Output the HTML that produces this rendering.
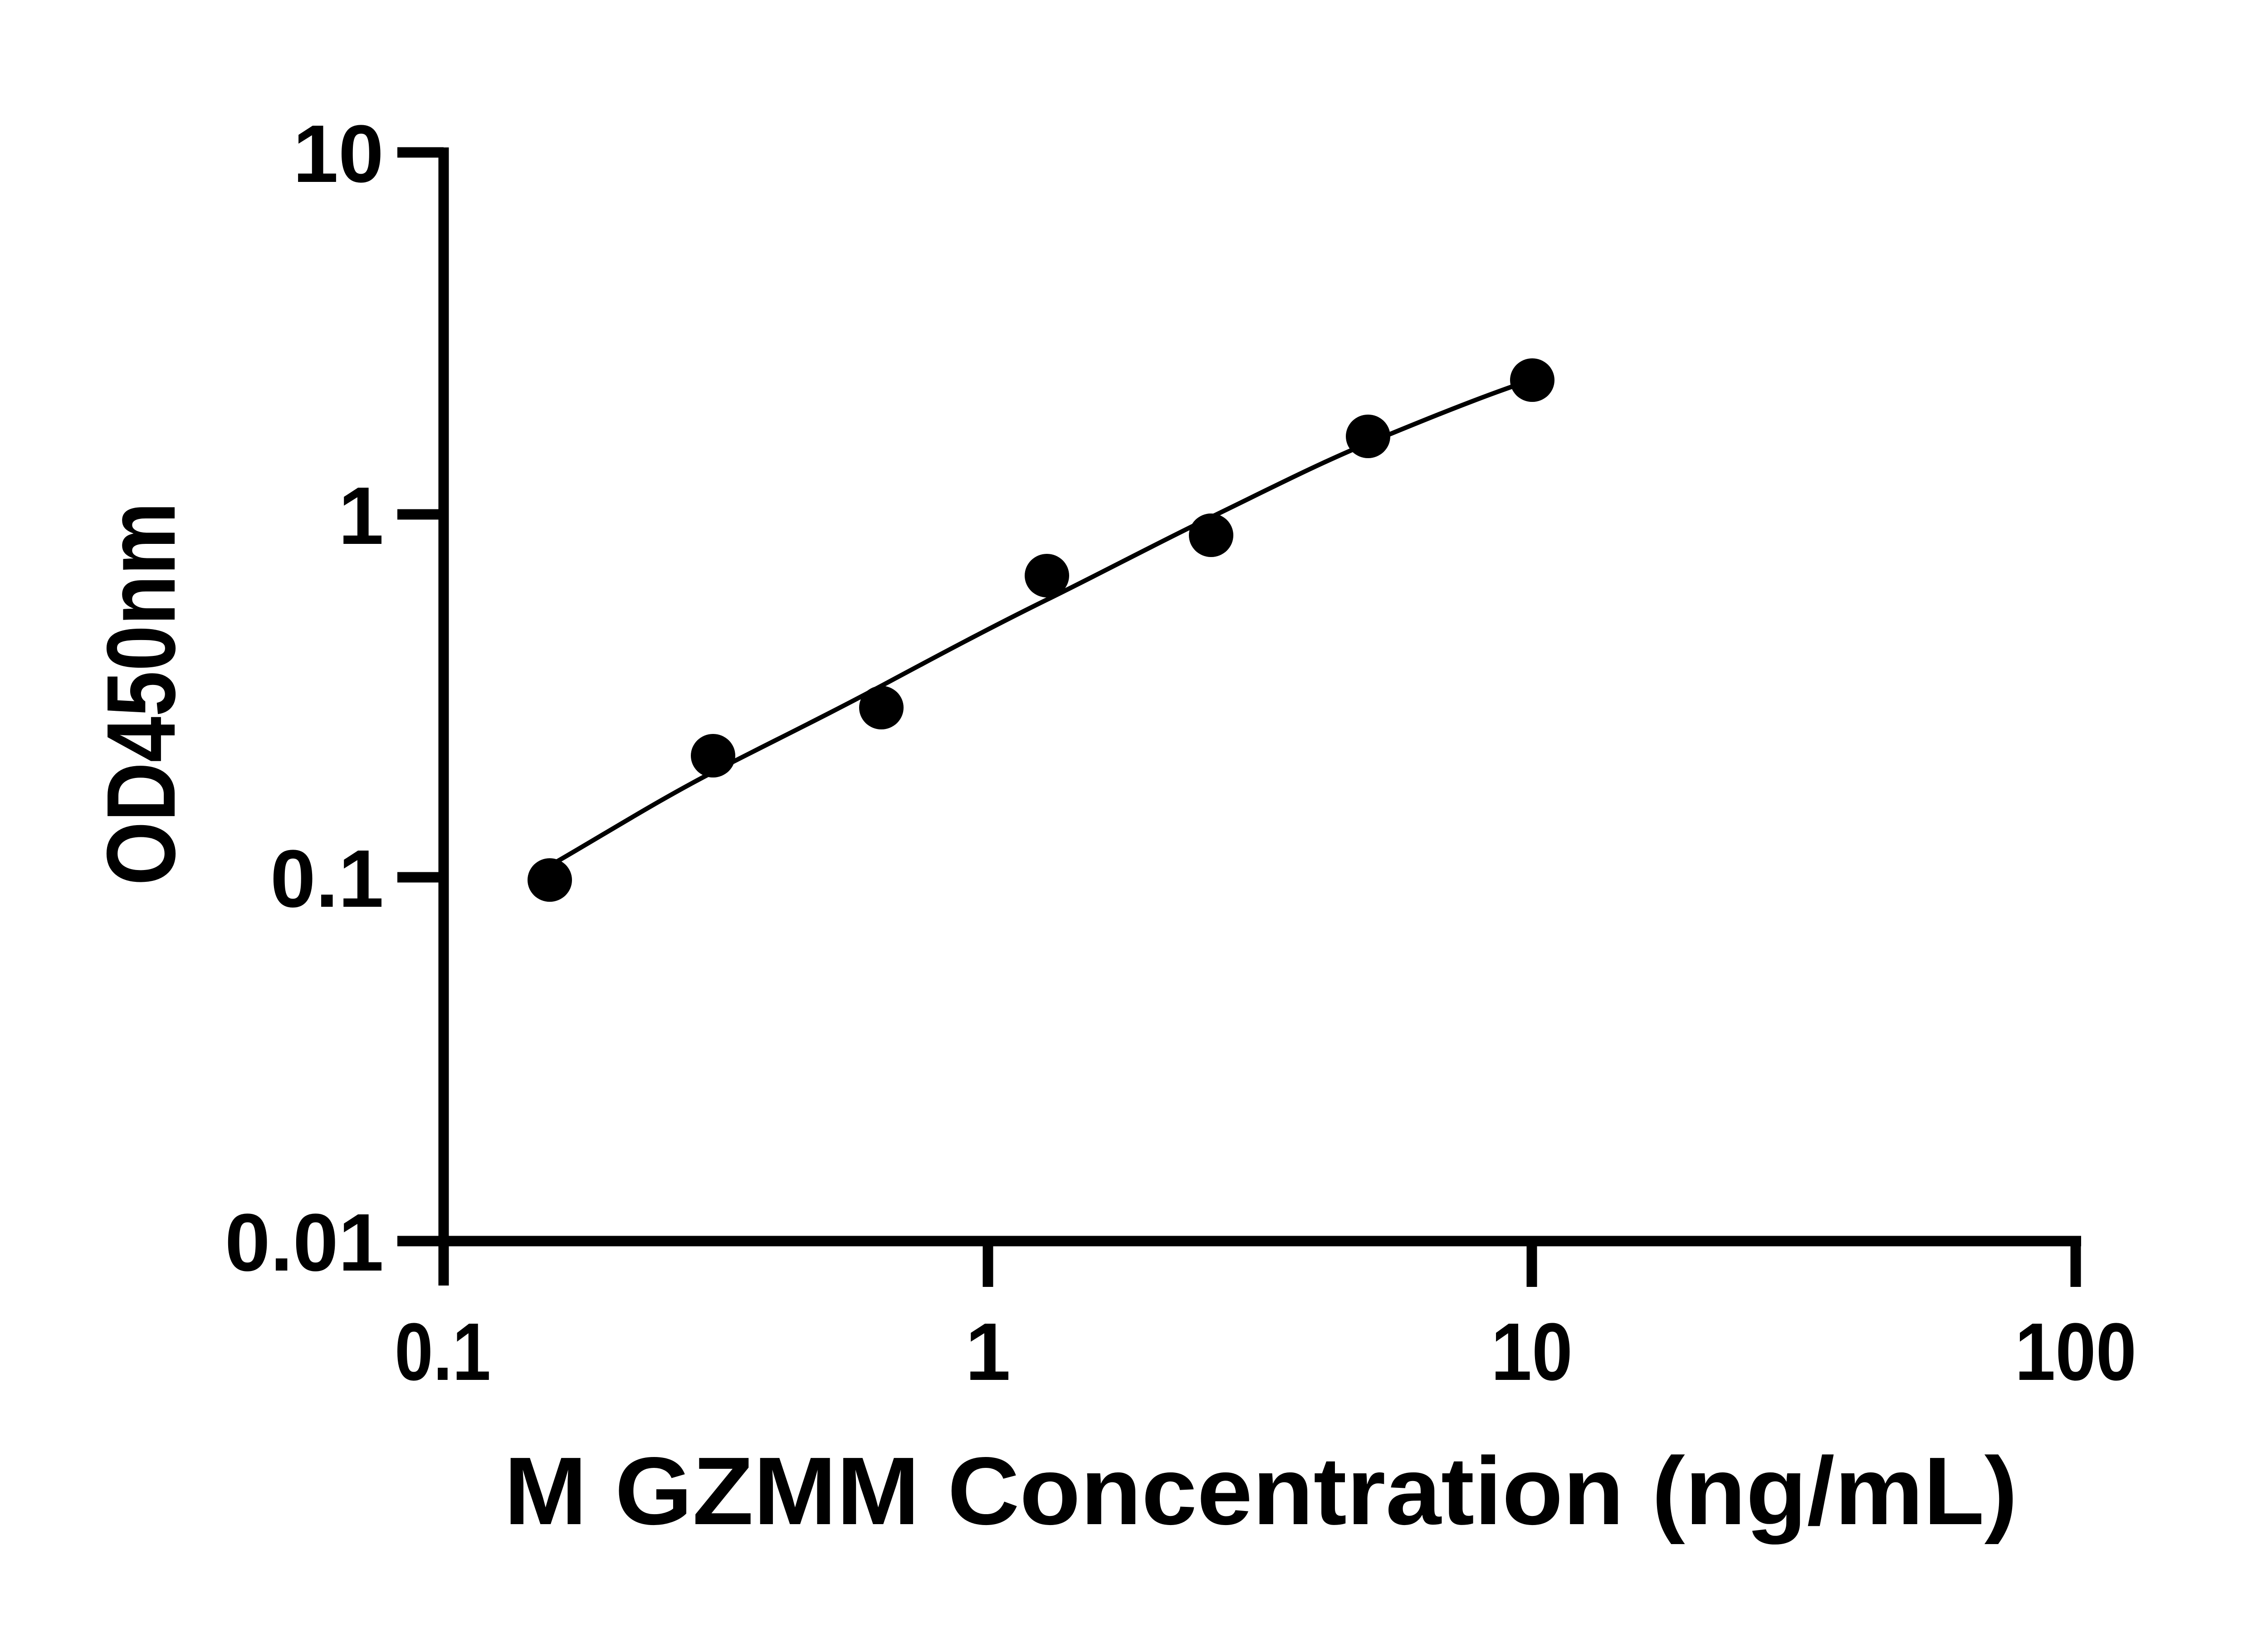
<!DOCTYPE html>
<html><head><meta charset="utf-8"><style>html,body{margin:0;padding:0;background:#fff}svg{display:block}</style></head>
<body>
<svg width="5130" height="3600" viewBox="0 0 5130 3600" xmlns="http://www.w3.org/2000/svg">
<rect width="5130" height="3600" fill="#fff"/>
<g stroke="#000" fill="none">
  <line x1="978" y1="325" x2="978" y2="2834" stroke-width="23"/>
  <line x1="876" y1="2736" x2="4588" y2="2736" stroke-width="23"/>
  <line x1="876" y1="336" x2="978" y2="336" stroke-width="23"/>
  <line x1="876" y1="1134" x2="978" y2="1134" stroke-width="23"/>
  <line x1="876" y1="1934" x2="978" y2="1934" stroke-width="23"/>
  <line x1="2178" y1="2736" x2="2178" y2="2837" stroke-width="23"/>
  <line x1="3377" y1="2736" x2="3377" y2="2837" stroke-width="23"/>
  <line x1="4576" y1="2736" x2="4576" y2="2837" stroke-width="23"/>
  <path d="M1218,1905 C1336,1837 1450,1765 1572,1702 S1820,1578 1943,1512 S2186,1382 2308,1322 S2550,1198 2670,1140 S2900,1025 3016,977 S3240,885 3340,850" stroke-width="10" stroke-linejoin="round"/>
</g>
<g fill="#000">
  <ellipse cx="1212" cy="1940" rx="49" ry="48"/>
  <ellipse cx="1572" cy="1666" rx="49" ry="48"/>
  <ellipse cx="1943" cy="1560" rx="49" ry="48"/>
  <ellipse cx="2308" cy="1269" rx="49" ry="48"/>
  <ellipse cx="2670" cy="1180" rx="49" ry="48"/>
  <ellipse cx="3016" cy="962" rx="49" ry="48"/>
  <ellipse cx="3378" cy="838" rx="49" ry="48"/>
</g>
<g font-family="Liberation Sans, Arial, sans-serif" font-weight="bold" fill="#000">
  <g font-size="180" text-anchor="end">
    <text x="846" y="401">10</text>
    <text x="846" y="1199">1</text>
    <text x="846" y="1999">0.1</text>
    <text x="846" y="2801">0.01</text>
  </g>
  <g font-size="180" text-anchor="middle">
    <text x="976" y="3042" textLength="212" lengthAdjust="spacingAndGlyphs">0.1</text>
    <text x="2178" y="3042">1</text>
    <text x="3377" y="3042" textLength="180" lengthAdjust="spacingAndGlyphs">10</text>
    <text x="4576" y="3042" textLength="268" lengthAdjust="spacingAndGlyphs">100</text>
  </g>
  <text x="1111" y="3360" font-size="212" textLength="3337" lengthAdjust="spacingAndGlyphs">M GZMM Concentration (ng/mL)</text>
  <text transform="translate(385,1952) rotate(-90)" font-size="215" textLength="845" lengthAdjust="spacingAndGlyphs">OD450nm</text>
</g>
</svg>
</body></html>
